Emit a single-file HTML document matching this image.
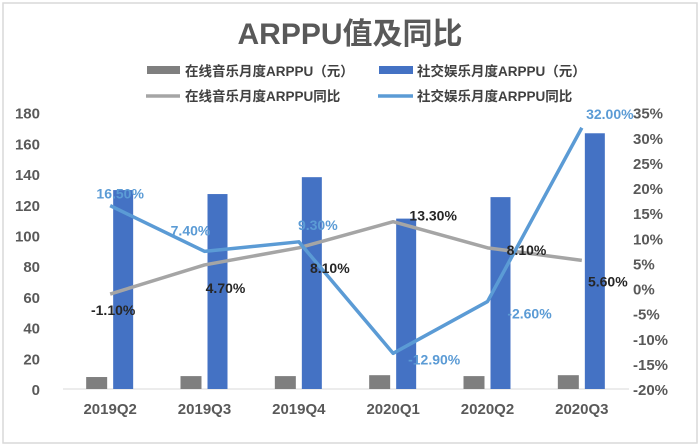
<!DOCTYPE html>
<html><head><meta charset="utf-8"><style>
html,body{margin:0;padding:0;background:#fff;}
svg{display:block;font-family:"Liberation Sans","Noto Sans CJK SC",sans-serif;}
</style></head><body>
<svg id="chart" width="700" height="447" viewBox="0 0 700 447">
<rect x="3" y="3" width="694" height="440" fill="#fff" stroke="#d9d9d9" stroke-width="1.5"/>
<text x="350" y="44" text-anchor="middle" font-size="30" font-weight="bold" fill="#595959">ARPPU值及同比</text>
<g font-size="13.5" font-weight="bold" fill="#404040">
<g><rect x="147" y="66" width="33" height="8" fill="#7f7f7f"/><text x="185" y="76">在线音乐月度ARPPU（元）</text></g>
<g><rect x="379" y="66" width="34" height="8" fill="#4472c4"/><text x="417" y="76">社交娱乐月度ARPPU（元）</text></g>
<g><line x1="146" y1="96" x2="180" y2="96" stroke="#a5a5a5" stroke-width="3.5"/><text x="185" y="101">在线音乐月度ARPPU同比</text></g>
<g><line x1="378" y1="96" x2="413" y2="96" stroke="#5b9bd5" stroke-width="3.5"/><text x="417" y="101">社交娱乐月度ARPPU同比</text></g>
</g>
<g id="plot"></g>
</svg>
<script>
const categories = ["2019Q2","2019Q3","2019Q4","2020Q1","2020Q2","2020Q3"];
const musicArppu = [7.8, 8.4, 8.4, 9.0, 8.4, 9.0];
const socialArppu = [129.6, 127, 138, 111, 125, 166.6];
const musicYoy = [-1.1, 4.7, 8.1, 13.3, 8.1, 5.6];
const socialYoy = [16.5, 7.4, 9.3, -12.9, -2.6, 32.0];
const leftTicks = [0,20,40,60,80,100,120,140,160,180];
const rightTicks = [-20,-15,-10,-5,0,5,10,15,20,25,30,35];
const musicLabelOffsets = [[3,16],[21,23],[31,20],[40,-6],[39,2],[26,21]];
const socialLabelOffsets = [[10,-12],[-14,-21],[19,-17],[41,6],[42,12],[28,-14]];

const NS = "http://www.w3.org/2000/svg";
const plot = document.getElementById("plot");
const x0 = 63, x1 = 629, yBottom = 389, yTop = 112.7;
const step = (x1 - x0) / categories.length;
function xC(i){ return x0 + step*(i+0.5); }
function yL(v){ return yBottom - (v-0)/(180-0)*(yBottom-yTop); }
function yR(v){ return yBottom - (v+20)/(55)*(yBottom-yTop); }
function mk(tag, attrs, parent){
  const e = document.createElementNS(NS, tag);
  for (const k in attrs) e.setAttribute(k, attrs[k]);
  (parent||plot).appendChild(e); return e;
}
function fmt(v){ return v.toFixed(2) + "%"; }

leftTicks.forEach(t=>{
  const e = mk("text",{x:40,y:yL(t)+6,"text-anchor":"end","font-size":"15","font-weight":"bold",fill:"#595959"});
  e.textContent = t;
  
  
});
rightTicks.forEach(t=>{
  const e = mk("text",{x:633,y:yR(t)+6,"text-anchor":"start","font-size":"15","font-weight":"bold",fill:"#595959"});
  e.textContent = t + "%";
  
  
});
const axis = mk("line",{x1:x0,y1:yBottom,x2:x1,y2:yBottom,stroke:"#d9d9d9","stroke-width":"1"});


categories.forEach((c,i)=>{
  const e = mk("text",{x:xC(i),y:414,"text-anchor":"middle","font-size":"15","font-weight":"bold",fill:"#595959"});
  e.textContent = c;
  
  
});
categories.forEach((c,i)=>{
  const g = mk("rect",{x:xC(i)-24,y:yL(musicArppu[i]),width:21,height:yBottom-yL(musicArppu[i]),fill:"#7f7f7f"});
  
  
  const b = mk("rect",{x:xC(i)+3,y:yL(socialArppu[i]),width:20,height:yBottom-yL(socialArppu[i]),fill:"#4472c4"});
  
  
});
function line(vals, color, name){
  const pts = vals.map((v,i)=>xC(i)+","+yR(v)).join(" ");
  const p = mk("polyline",{points:pts,fill:"none",stroke:color,"stroke-width":"3.5","stroke-linejoin":"round"});
  
  
}
line(musicYoy, "#a5a5a5", "line-music-yoy");
line(socialYoy, "#5b9bd5", "line-social-yoy");
musicYoy.forEach((v,i)=>{
  const e = mk("text",{x:xC(i)+musicLabelOffsets[i][0],y:yR(v)+musicLabelOffsets[i][1]+5,"text-anchor":"middle","font-size":"14","font-weight":"bold",fill:"#262626"});
  e.textContent = fmt(v);
  
  
});
socialYoy.forEach((v,i)=>{
  const e = mk("text",{x:xC(i)+socialLabelOffsets[i][0],y:yR(v)+socialLabelOffsets[i][1]+5,"text-anchor":"middle","font-size":"14","font-weight":"bold",fill:"#5b9bd5"});
  e.textContent = fmt(v);
  
  
});
</script>
</body></html>
